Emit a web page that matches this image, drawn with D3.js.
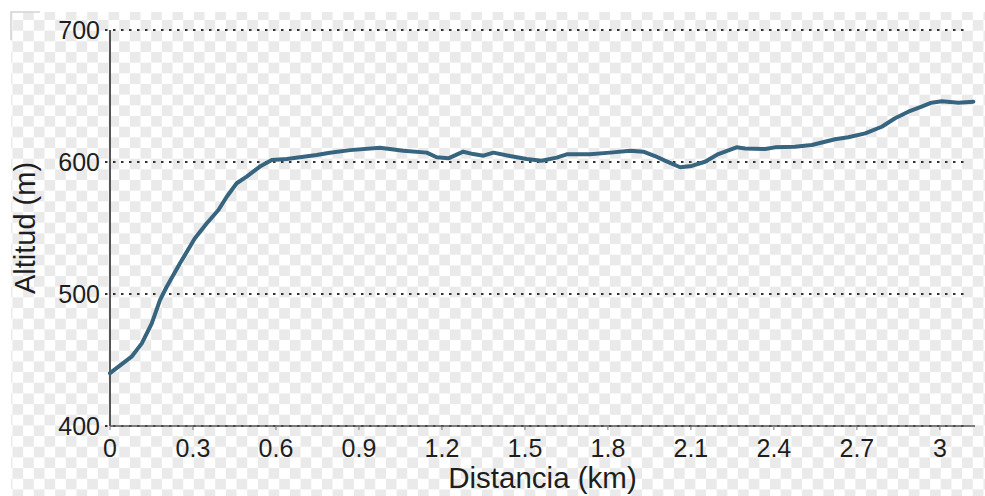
<!DOCTYPE html>
<html lang="es">
<head>
<meta charset="utf-8">
<title>Perfil de altitud</title>
<script src="https://cdn.jsdelivr.net/npm/d3@7"></script>
<style>
  body { margin: 0; background: #fff; }
  svg { display: block; }
  text { font-family: "Liberation Sans", Arial, sans-serif; fill: #1e1e1e; }
</style>
</head>
<body>
<script>
// distance along the route (km) and altitude (m)
var distKm = [0, 0.078, 0.115, 0.151, 0.181, 0.205, 0.253, 0.307, 0.35, 0.392,
              0.422, 0.458, 0.494, 0.542, 0.585, 0.639, 0.747, 0.795, 0.868, 0.976,
              1.06, 1.145, 1.181, 1.223, 1.277, 1.313, 1.35, 1.386, 1.446, 1.506,
              1.56, 1.615, 1.651, 1.735, 1.808, 1.88, 1.928, 1.97, 2.006, 2.061,
              2.103, 2.151, 2.199, 2.265, 2.296, 2.368, 2.404, 2.476, 2.537, 2.621,
              2.669, 2.73, 2.79, 2.838, 2.886, 2.934, 2.97, 3.007, 3.067, 3.121];
var altM = [440, 452.5, 462.6, 477.8, 495.5, 505.5, 523.3, 542.2, 553.6, 563.6,
            573.7, 583.9, 588.9, 596.5, 601.5, 602.3, 605.3, 607, 609, 610.8,
            608.6, 607.1, 603.6, 602.8, 607.8, 606, 604.8, 607.1, 604.5, 602.3,
            601, 603.3, 605.8, 605.8, 607.1, 608.6, 607.8, 604.5, 601, 596,
            597, 600.2, 606, 611.1, 610.3, 609.8, 611.1, 611.6, 612.9, 617.2,
            618.7, 621.7, 626.7, 633.1, 638.1, 641.9, 644.9, 646, 644.9, 645.7];

var xTicks = [0, 0.3, 0.6, 0.9, 1.2, 1.5, 1.8, 2.1, 2.4, 2.7, 3];
var xTickLabels = ["0", "0.3", "0.6", "0.9", "1.2", "1.5", "1.8", "2.1", "2.4", "2.7", "3"];
var yTicks = [400, 500, 600, 700];
var yTickLabels = ["400", "500", "600", "700"];

var w = 985, h = 496;
var mLeft = 110, mRight = 975, mTop = 30, mBottom = 426;

var svg = d3.select("body").append("svg")
  .attr("width", w)
  .attr("height", h);

// checkered (transparent) backdrop from the original screenshot
var cell = 10.67;
var pat = svg.append("defs").append("pattern")
  .attr("id", "checker")
  .attr("patternUnits", "userSpaceOnUse")
  .attr("width", cell * 2)
  .attr("height", cell * 2)
  .attr("patternTransform", "translate(1.8,9.3)");
pat.append("rect").attr("width", cell * 2).attr("height", cell * 2).attr("fill", "#ffffff");
pat.append("rect").attr("width", cell).attr("height", cell).attr("fill", "#eaeaea");
pat.append("rect").attr("x", cell).attr("y", cell).attr("width", cell).attr("height", cell).attr("fill", "#eaeaea");

svg.append("rect")
  .attr("x", 11).attr("y", 12)
  .attr("width", w - 11).attr("height", h - 12)
  .attr("fill", "url(#checker)");
svg.append("path")
  .attr("d", "M11,40V12H40")
  .attr("fill", "none")
  .attr("stroke", "#d4d4d4")
  .attr("stroke-width", 1.5);

var xScale = d3.scaleLinear()
  .domain([0, 3.127])
  .range([mLeft, mRight]);
var yScale = d3.scaleLinear()
  .domain([400, 700])
  .range([mBottom, mTop]);

// dotted grid lines
svg.selectAll("line.grid")
  .data(yTicks)
  .enter()
  .append("line")
  .attr("class", "grid")
  .attr("x1", mLeft - 5)
  .attr("x2", 968)
  .attr("y1", function(d) { return yScale(d); })
  .attr("y2", function(d) { return yScale(d); })
  .attr("stroke", "#333")
  .attr("stroke-width", 2.2)
  .attr("stroke-dasharray", "2.5,5.5");

// axis lines
svg.append("line")
  .attr("x1", mLeft).attr("x2", mLeft)
  .attr("y1", yScale(700)).attr("y2", yScale(400))
  .attr("stroke", "#555")
  .attr("stroke-width", 2);
svg.append("line")
  .attr("x1", mLeft).attr("x2", mRight)
  .attr("y1", yScale(400)).attr("y2", yScale(400))
  .attr("stroke", "#555")
  .attr("stroke-width", 1.5);

// x tick marks + labels
svg.selectAll("line.xtick")
  .data(xTicks)
  .enter()
  .append("line")
  .attr("class", "xtick")
  .attr("x1", function(d) { return xScale(d); })
  .attr("x2", function(d) { return xScale(d); })
  .attr("y1", mBottom)
  .attr("y2", mBottom + 4)
  .attr("stroke", "#777")
  .attr("stroke-width", 1);

svg.selectAll("text.xlab")
  .data(xTicks)
  .enter()
  .append("text")
  .attr("class", "xlab")
  .attr("x", function(d) { return xScale(d); })
  .attr("y", 457)
  .attr("text-anchor", "middle")
  .attr("font-size", "25px")
  .text(function(d, i) { return xTickLabels[i]; });

svg.selectAll("text.ylab")
  .data(yTicks)
  .enter()
  .append("text")
  .attr("class", "ylab")
  .attr("x", 100)
  .attr("y", function(d) { return yScale(d) + 9; })
  .attr("text-anchor", "end")
  .attr("font-size", "25px")
  .text(function(d, i) { return yTickLabels[i]; });

// axis titles
svg.append("text")
  .attr("x", (mLeft + mRight) / 2)
  .attr("y", 488)
  .attr("text-anchor", "middle")
  .attr("font-size", "29.5px")
  .text("Distancia (km)");

svg.append("text")
  .attr("transform", "translate(35," + (mTop + mBottom) / 2 + ") rotate(-90)")
  .attr("text-anchor", "middle")
  .attr("font-size", "29px")
  .text("Altitud (m)");

// elevation profile
var line = d3.line()
  .x(function(d, i) { return xScale(distKm[i]); })
  .y(function(d) { return yScale(d); });

svg.append("path")
  .datum(altM)
  .attr("d", line)
  .attr("fill", "none")
  .attr("stroke", "#37647f")
  .attr("stroke-width", 4)
  .attr("stroke-linejoin", "round")
  .attr("stroke-linecap", "round");
</script>
</body>
</html>
